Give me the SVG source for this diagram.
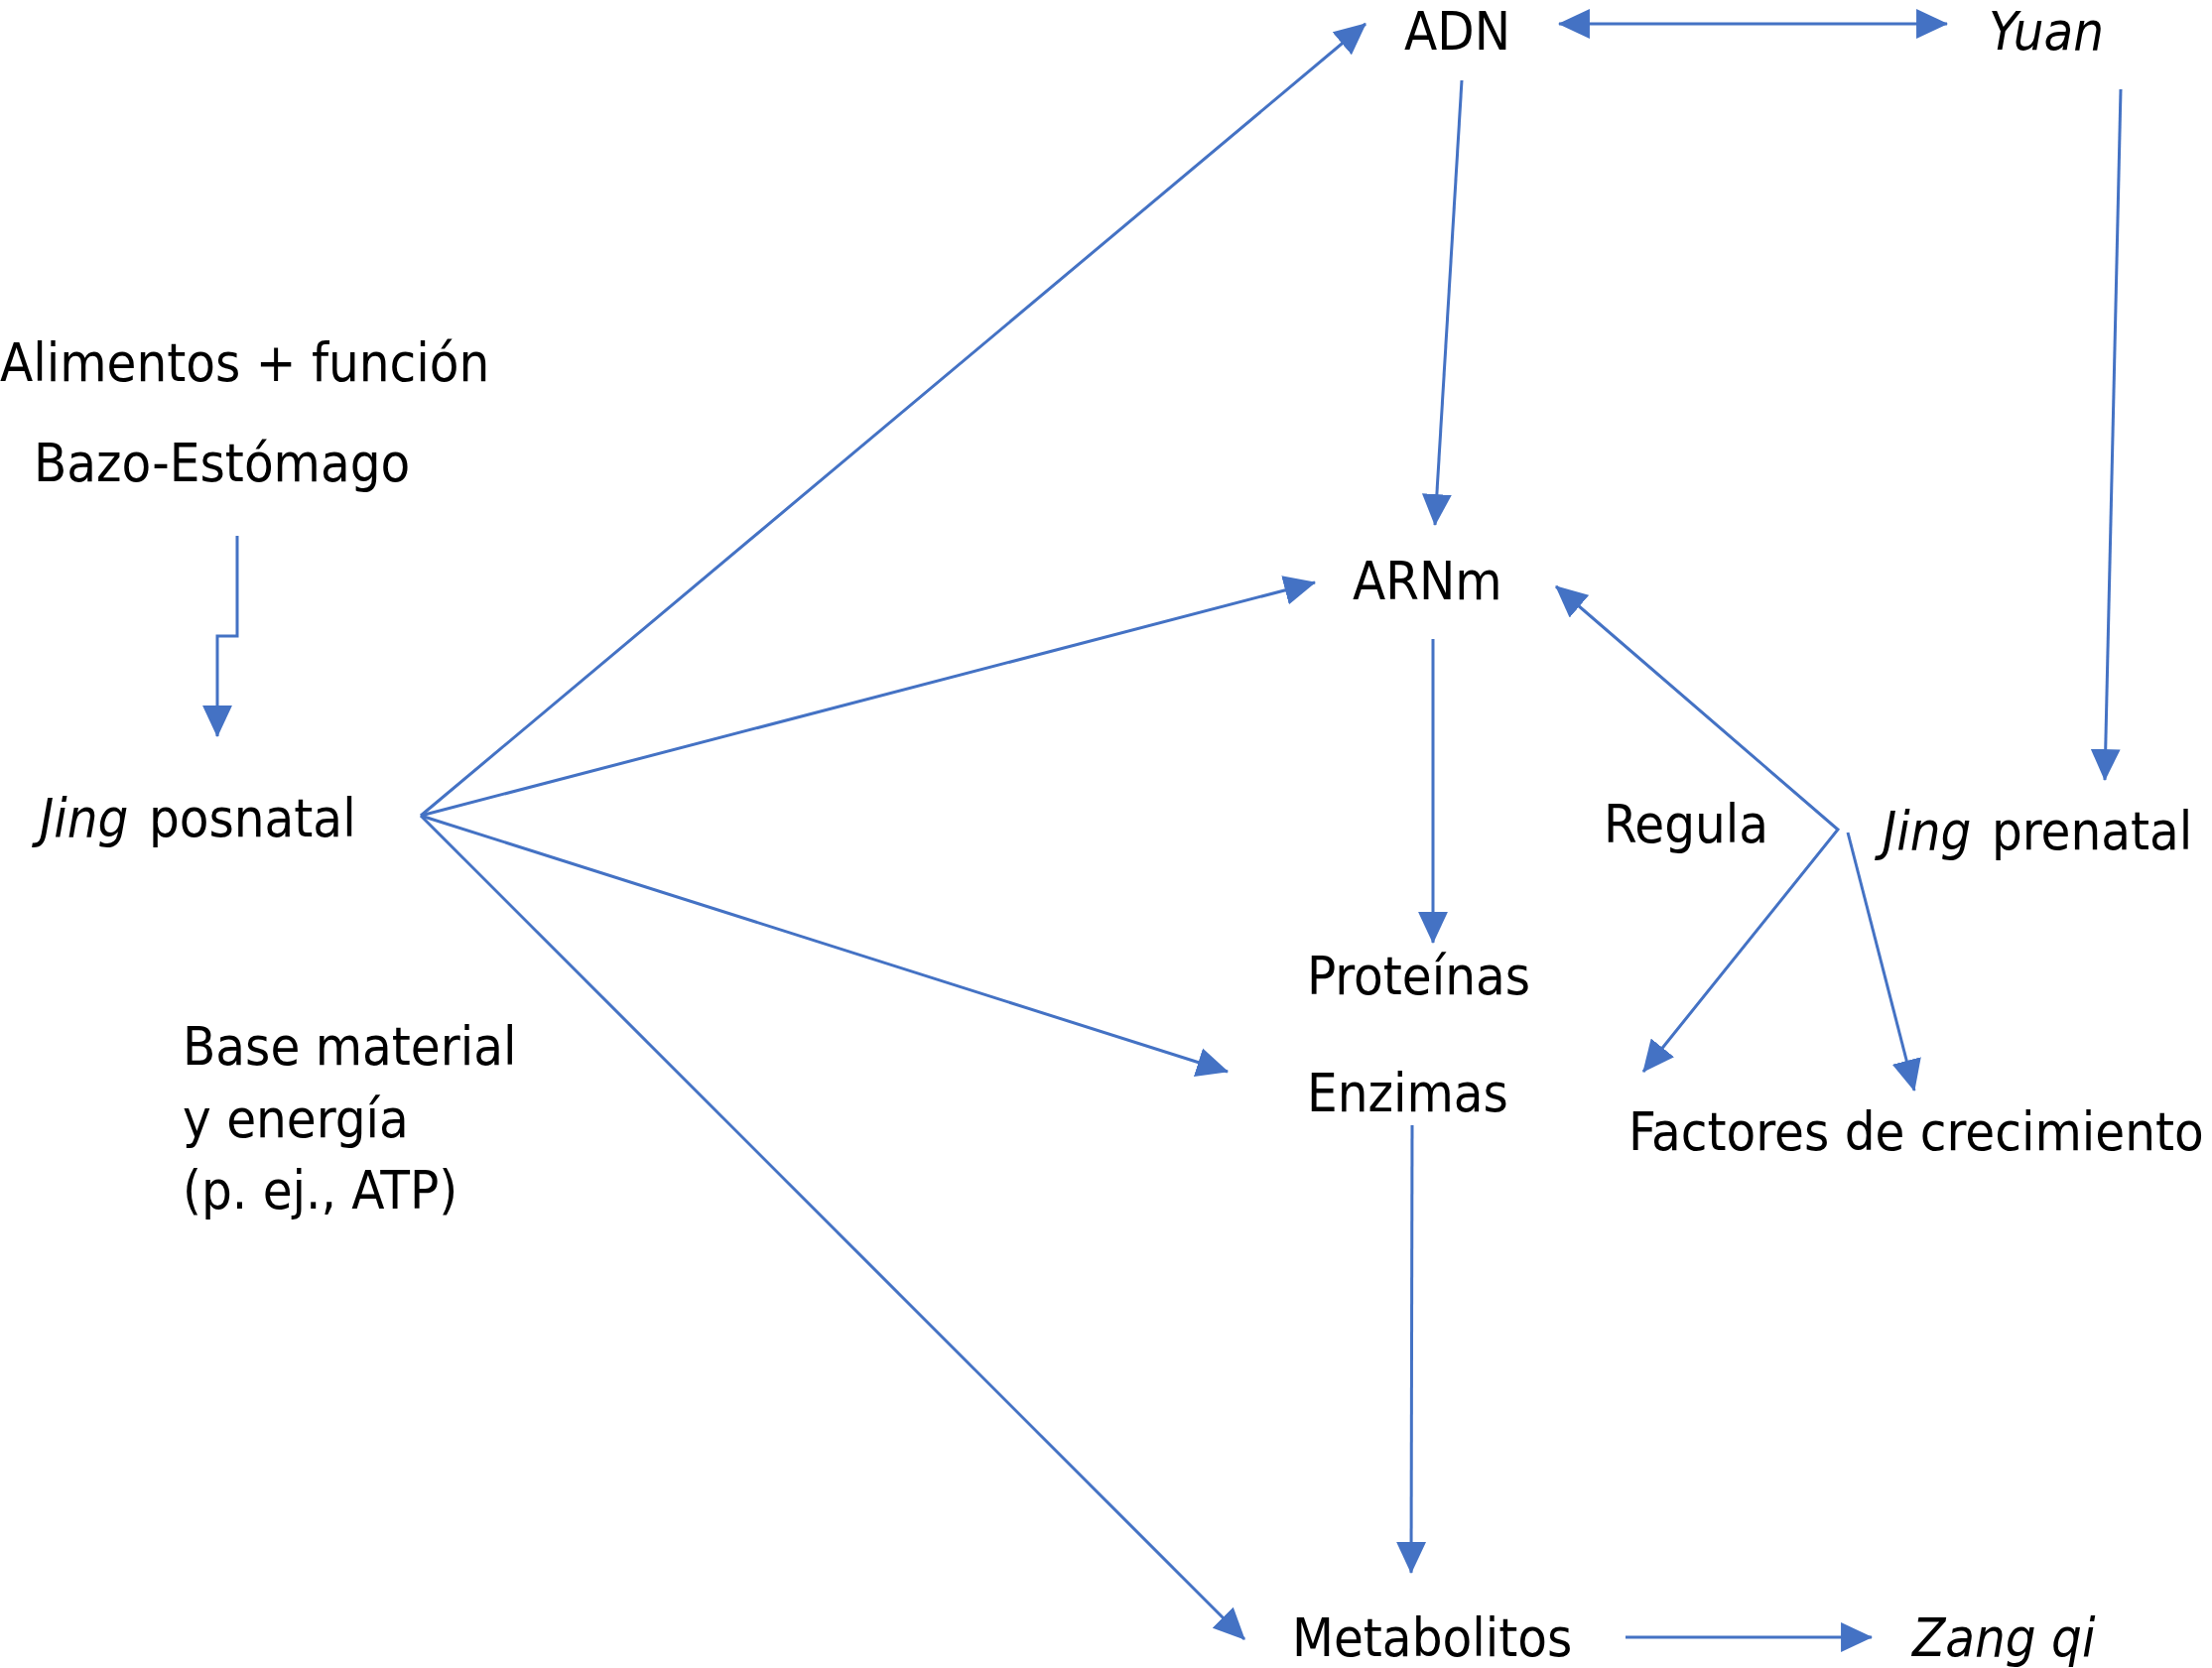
<svg xmlns="http://www.w3.org/2000/svg" width="2229" height="1681" viewBox="0 0 2229 1681">
<style>
text{font-family:"DejaVu Sans Condensed","DejaVu Sans",Verdana,sans-serif;font-stretch:condensed;font-size:54px;fill:#000}
.i{font-style:italic}
.c{stroke:#4472C4;stroke-width:3;fill:none}
</style>
<defs>
<marker id="ah" markerUnits="userSpaceOnUse" markerWidth="32" markerHeight="30" refX="29" refY="14" orient="auto-start-reverse" viewBox="0 0 30 28"><path d="M0,0L30,14L0,28z" fill="#4472C4"/></marker>
</defs>
<rect width="2229" height="1681" fill="#fff"/>
<g id="connectors">
<path class="c" d="M239,540V641H219V742" marker-end="url(#ah)"/>
<line class="c" x1="424" y1="822" x2="1376" y2="24" marker-end="url(#ah)"/>
<line class="c" x1="424" y1="822" x2="1325" y2="587" marker-end="url(#ah)"/>
<line class="c" x1="424" y1="822" x2="1237" y2="1080" marker-end="url(#ah)"/>
<line class="c" x1="424" y1="822" x2="1254" y2="1652" marker-end="url(#ah)"/>
<line class="c" x1="1473" y1="81" x2="1446" y2="529" marker-end="url(#ah)"/>
<line class="c" x1="2137" y1="90" x2="2121" y2="786" marker-end="url(#ah)"/>
<line class="c" x1="1444" y1="644" x2="1444" y2="950" marker-end="url(#ah)"/>
<line class="c" x1="1423" y1="1134" x2="1422" y2="1585" marker-end="url(#ah)"/>
<line class="c" x1="1638" y1="1650" x2="1886" y2="1650" marker-end="url(#ah)"/>
<line class="c" x1="1571" y1="24" x2="1962" y2="24" marker-start="url(#ah)" marker-end="url(#ah)"/>
<path class="c" d="M1568,591L1852,836L1656,1080" marker-start="url(#ah)" marker-end="url(#ah)"/>
<line class="c" x1="1862" y1="839" x2="1929" y2="1099" marker-end="url(#ah)"/>
</g>
<g id="alimentos"><text x="0" y="384">Alimentos + función</text><text x="34" y="485">Bazo-Estómago</text></g>
<g id="jing-posnatal"><text x="40" y="843"><tspan class="i">Jing</tspan><tspan dx="5"> posnatal</tspan></text></g>
<g id="base-material"><text x="184" y="1073">Base material</text><text x="184" y="1146">y energía</text><text x="184" y="1218">(p. ej., ATP)</text></g>
<g id="adn"><text x="1415" y="50">ADN</text></g>
<g id="yuan"><text x="2004" y="50" class="i">Yuan</text></g>
<g id="arnm"><text x="1363" y="604">ARNm</text></g>
<g id="regula"><text x="1616" y="849">Regula</text></g>
<g id="jing-prenatal"><text x="1897" y="856"><tspan class="i">Jing</tspan><tspan dx="5"> prenatal</tspan></text></g>
<g id="proteinas"><text x="1317" y="1002">Proteínas</text></g>
<g id="enzimas"><text x="1317" y="1120">Enzimas</text></g>
<g id="factores"><text x="1641" y="1159">Factores de crecimiento</text></g>
<g id="metabolitos"><text x="1302" y="1669">Metabolitos</text></g>
<g id="zang-qi"><text x="1927" y="1669" class="i">Zang qi</text></g>
</svg>
